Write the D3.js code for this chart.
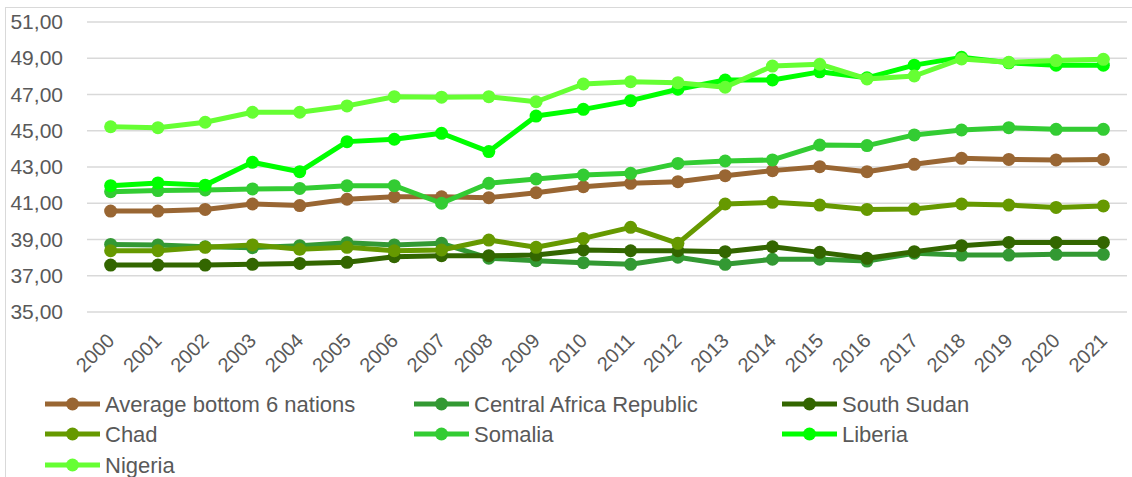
<!DOCTYPE html>
<html><head><meta charset="utf-8">
<script src="https://cdn.jsdelivr.net/npm/d3@7"></script>
<style>
body{margin:0;background:#fff;}
text{font-family:"Liberation Sans",Arial,sans-serif;fill:#595959;}
</style></head>
<body><svg id="c" width="1132" height="477"></svg>
<script>
const years = ["2000","2001","2002","2003","2004","2005","2006","2007","2008","2009","2010","2011","2012","2013","2014","2015","2016","2017","2018","2019","2020","2021"];
const yTicks = [35,37,39,41,43,45,47,49,51];
const seriesNames = ["Average bottom 6 nations","Central Africa Republic","South Sudan","Chad","Somalia","Liberia","Nigeria"];
const seriesColors = ["#996633","#339933","#336600","#669900","#33CC33","#00FF00","#66FF33"];
const average = [40.57,40.57,40.66,40.96,40.87,41.22,41.36,41.36,41.31,41.58,41.91,42.10,42.19,42.52,42.80,43.02,42.74,43.15,43.48,43.42,43.39,43.42];
const car = [38.73,38.70,38.60,38.55,38.66,38.82,38.70,38.79,37.97,37.83,37.72,37.63,38.02,37.63,37.91,37.91,37.81,38.24,38.14,38.14,38.18,38.18];
const southSudan = [37.59,37.59,37.59,37.63,37.68,37.74,38.05,38.11,38.11,38.14,38.42,38.38,38.38,38.33,38.60,38.29,37.96,38.33,38.66,38.84,38.84,38.84];
const chad = [38.38,38.38,38.57,38.70,38.46,38.57,38.38,38.42,38.97,38.57,39.06,39.67,38.79,40.96,41.05,40.90,40.66,40.68,40.96,40.90,40.77,40.85];
const somalia = [41.64,41.70,41.73,41.79,41.82,41.96,41.97,41.00,42.10,42.34,42.56,42.65,43.20,43.33,43.39,44.21,44.18,44.77,45.04,45.17,45.08,45.08];
const liberia = [41.97,42.12,42.00,43.26,42.74,44.40,44.53,44.86,43.85,45.81,46.18,46.66,47.29,47.80,47.80,48.25,47.92,48.62,49.05,48.75,48.62,48.62];
const nigeria = [45.22,45.17,45.47,46.02,46.02,46.37,46.88,46.85,46.88,46.60,47.58,47.71,47.65,47.40,48.57,48.67,47.86,48.02,48.96,48.78,48.87,48.94];
const seriesValues = [average,car,southSudan,chad,somalia,liberia,nigeria];

const svg = d3.select("#c");
svg.append("line").attr("x1",5.5).attr("x2",5.5).attr("y1",7).attr("y2",477).attr("stroke","#d9d9d9");
svg.append("line").attr("x1",5.5).attr("x2",1132).attr("y1",7.5).attr("y2",7.5).attr("stroke","#d9d9d9");

const x = d3.scaleBand().domain(years).range([87,1127]);
const y = d3.scaleLinear().domain([35,51]).range([312,22]);

svg.append("g").selectAll("line").data(yTicks).join("line")
  .attr("x1",87).attr("x2",1127)
  .attr("y1",d=>y(d)).attr("y2",d=>y(d))
  .attr("stroke","#d9d9d9").attr("stroke-width",1.5);

const yAxis = d3.axisLeft(y).tickValues(yTicks).tickSize(0).tickPadding(0)
  .tickFormat(d=>d3.format(".2f")(d).replace(".",","));
const gy = svg.append("g").attr("transform","translate(63,0)").call(yAxis);
gy.select(".domain").remove();
gy.selectAll("text").style("font-size","21px").attr("fill","#595959");

const xAxis = d3.axisBottom(x).tickSize(0).tickPadding(0);
const gx = svg.append("g").attr("transform","translate(0,312)").call(xAxis);
gx.select(".domain").remove();
gx.selectAll("text").style("font-size","20px").attr("fill","#595959")
  .attr("text-anchor","end").attr("dy",null).attr("y",0)
  .attr("transform","translate(5,30) rotate(-45)");

const line = d3.line().x((d,i)=>x(years[i])+x.bandwidth()/2).y(d=>y(d));
seriesValues.forEach((vals,k)=>{
  const g = svg.append("g");
  g.append("path").datum(vals).attr("d",line).attr("fill","none")
    .attr("stroke",seriesColors[k]).attr("stroke-width",5).attr("stroke-linejoin","round");
  g.selectAll("circle").data(vals).join("circle")
    .attr("cx",(d,i)=>x(years[i])+x.bandwidth()/2).attr("cy",d=>y(d)).attr("r",6.5)
    .attr("fill",seriesColors[k]);
});

const legX = [45,414,782];
const legY = [404,434,465];
seriesNames.forEach((name,k)=>{
  const lx = legX[k%3], ly = legY[Math.floor(k/3)];
  const g = svg.append("g").attr("transform",`translate(${lx},${ly})`);
  g.append("line").attr("x1",0).attr("x2",55).attr("y1",0).attr("y2",0)
    .attr("stroke",seriesColors[k]).attr("stroke-width",5);
  g.append("circle").attr("cx",27.5).attr("cy",0).attr("r",6.5).attr("fill",seriesColors[k]);
  g.append("text").attr("x",60).attr("y",0).attr("dy","0.35em")
    .style("font-size","22px").text(name);
});
</script></body></html>
